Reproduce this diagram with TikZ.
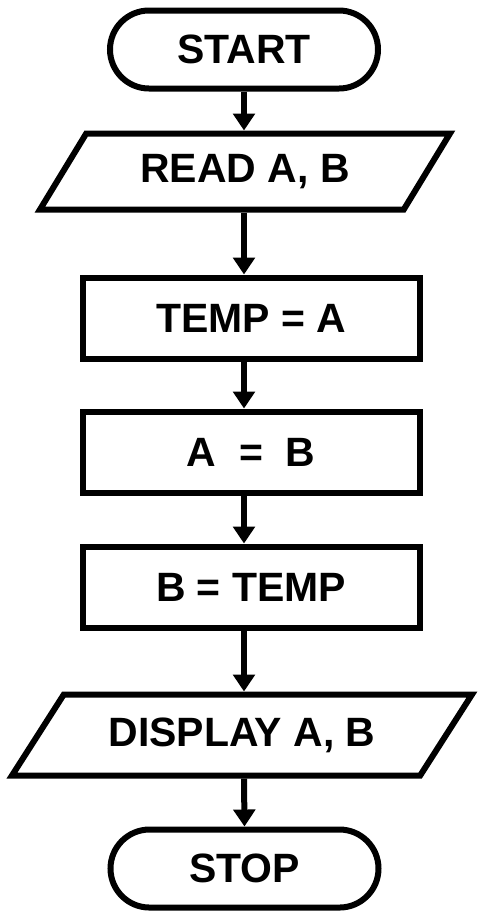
\documentclass[tikz,border=0pt]{standalone}
\usepackage{fontspec}
\setmainfont{Liberation Sans}
\usetikzlibrary{positioning, arrows.meta, shapes.geometric}

\begin{document}
\begin{tikzpicture}[node distance=1cm,
    flow/.style={draw, line width=0.12cm, fill=white,
                 font=\bfseries\fontsize{23.3}{28}\selectfont},
    term/.style={flow, rounded corners=0.78cm,
                 minimum width=5.36cm, minimum height=1.56cm},
    proc/.style={flow, minimum width=6.74cm, minimum height=1.62cm},
    io/.style={flow, trapezium, trapezium stretches body,
               trapezium left angle=#1, trapezium right angle=180-#1,
               minimum height=1.56cm}]
  \useasboundingbox (0,0) rectangle (9.56,-18.26);
  \node[term] (start) at (4.88,-0.99) {START};
  \node[io=45, minimum width=8.2cm, minimum height=1.52cm,
        below=0.78cm of start, xshift=0.02cm] (read) {READ A, B};
  \node[proc, below=1.24cm of read, xshift=0.12cm] (temp) {TEMP = A};
  \node[proc, below=0.94cm of temp] (ab) {A\ \ =\ \ B};
  \node[proc, below=0.96cm of ab] (bt) {B = TEMP};
  \node[io=42, minimum width=9.2cm, minimum height=1.62cm,
        below=1.22cm of bt, xshift=-0.18cm] (disp) {DISPLAY A, B};
  \node[term, below=0.96cm of disp, xshift=0.05cm] (stop) {STOP};
  \draw[-{Triangle[width=0.43cm, length=0.34cm]}, line width=0.12cm]
    (start.south) -- (start.south |- read.north);
  \draw[-{Triangle[width=0.43cm, length=0.34cm]}, line width=0.12cm]
    (start.south |- read.south) -- (start.south |- temp.north);
  \draw[-{Triangle[width=0.43cm, length=0.34cm]}, line width=0.12cm]
    (start.south |- temp.south) -- (start.south |- ab.north);
  \draw[-{Triangle[width=0.43cm, length=0.34cm]}, line width=0.12cm]
    (start.south |- ab.south) -- (start.south |- bt.north);
  \draw[-{Triangle[width=0.43cm, length=0.34cm]}, line width=0.12cm]
    (start.south |- bt.south) -- (start.south |- disp.north);
  \draw[-{Triangle[width=0.43cm, length=0.34cm]}, line width=0.12cm]
    (start.south |- disp.south) -- (stop.north);
\end{tikzpicture}
\end{document}
